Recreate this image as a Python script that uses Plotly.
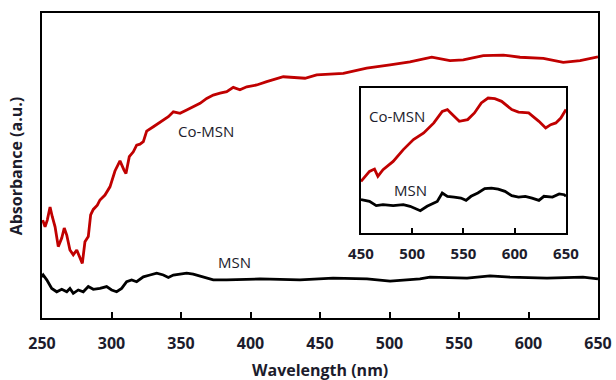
import plotly.graph_objects as go

# ---- main panel data ----
co_wl = [250.5, 252.2, 253.8, 255.8, 257.4, 259.4, 261.7, 264.2, 266.0, 267.8,
         270.1, 272.5, 275.0, 277.3, 279.0, 280.9, 283.3, 285.0, 286.9, 289.8,
         291.7, 295.3, 298.9, 302.5, 306.1, 309.0, 310.4, 312.8, 315.7, 318.1,
         320.5, 322.9, 325.3, 330.1, 333.7, 337.3, 340.9, 344.5, 349.3, 354.1,
         358.8, 363.7, 368.5, 373.2, 378.1, 382.9, 387.6, 392.4, 397.3, 404.5,
         411.7, 423.6, 439.2, 447.6, 466.8, 483.6, 500.4, 514.7, 530.4, 543.5,
         553.1, 567.5, 581.9, 593.9, 610.7, 625.0, 637.1, 649.1, 650.0]
co_abs = [32.1, 29.9, 32.1, 36.4, 33.2, 29.9, 23.4, 26.2, 29.5, 27.2,
          22.3, 20.7, 22.3, 19.7, 17.9, 25.0, 26.7, 33.8, 35.6, 37.0,
          38.7, 40.3, 43.0, 48.2, 51.5, 48.5, 47.4, 52.9, 54.5, 56.7,
          57.0, 57.8, 61.3, 62.7, 63.8, 64.9, 66.0, 67.6, 67.1, 68.2,
          69.3, 70.4, 72.0, 73.1, 73.7, 74.2, 75.6, 74.8, 75.8, 76.4,
          77.5, 79.1, 78.6, 79.7, 80.2, 81.9, 83.0, 84.0, 85.5, 84.4,
          84.6, 86.0, 86.2, 85.5, 85.1, 83.8, 84.4, 85.5, 85.6]

msn_wl = [250.0, 250.9, 253.4, 257.0, 260.6, 264.2, 267.8, 270.1, 272.5, 276.1,
          279.7, 283.3, 286.9, 291.7, 296.5, 300.1, 303.7, 307.3, 310.9, 314.5,
          318.1, 322.9, 327.7, 332.5, 337.3, 340.9, 344.5, 349.3, 354.1, 358.8,
          363.7, 368.5, 373.2, 382.9, 392.4, 406.8, 435.6, 459.4, 483.8, 500.4,
          521.9, 529.1, 555.8, 572.3, 586.7, 613.3, 639.2, 650.0]
msn_abs = [13.4, 14.1, 12.5, 9.7, 8.6, 9.4, 8.6, 9.7, 8.1, 9.2,
           8.6, 10.3, 9.4, 9.7, 10.3, 9.2, 8.6, 9.7, 11.9, 12.5,
           11.9, 13.5, 14.1, 14.7, 14.1, 13.3, 14.1, 14.4, 14.7, 14.4,
           13.8, 13.0, 12.5, 12.5, 12.7, 12.8, 12.5, 13.1, 12.8, 12.1,
           12.8, 13.4, 13.1, 13.8, 13.4, 13.1, 13.4, 12.8]

# ---- inset data (450-650 nm) ----
ins_co_wl = [450.0, 458.3, 463.2, 466.5, 471.5, 481.4, 491.3, 501.2, 511.2, 521.1,
             529.3, 534.3, 537.6, 545.9, 554.1, 560.7, 567.4, 574.0, 580.6, 587.2,
             597.1, 603.7, 613.6, 623.6, 630.2, 635.1, 640.1, 645.0, 650.0]
ins_co_abs = [35.6, 42.5, 44.1, 39.1, 43.7, 49.4, 57.5, 64.4, 69.0, 75.9,
              83.9, 85.1, 82.8, 77.0, 78.2, 82.8, 89.7, 93.1, 92.6, 90.8,
              85.1, 83.4, 82.8, 77.0, 72.4, 74.7, 75.9, 79.3, 85.1]

ins_msn_wl = [450.0, 458.3, 464.9, 471.5, 481.4, 491.3, 497.9, 504.5, 507.9, 514.5,
              524.4, 529.3, 534.3, 540.9, 547.5, 552.5, 557.4, 564.0, 570.7, 577.3,
              583.9, 590.5, 597.1, 603.7, 610.3, 616.9, 623.6, 628.5, 636.8, 643.4,
              648.3, 650.0]
ins_msn_abs = [23.0, 21.8, 18.9, 19.5, 18.9, 19.5, 18.4, 16.1, 15.4, 18.4,
               21.8, 27.6, 25.3, 24.8, 24.1, 22.5, 25.3, 27.6, 30.6, 31.0,
               30.3, 28.7, 25.7, 24.8, 25.3, 24.1, 22.5, 25.3, 24.8, 26.9,
               26.4, 25.3]

main_ticks = [250, 300, 350, 400, 450, 500, 550, 600, 650]
inset_ticks = [450, 500, 550, 600, 650]

RED = "#C00000"
TXT = "#1c1c2c"
FONT = "Open Sans"
LW = 2.8

fig = go.Figure()
fig.add_trace(go.Scatter(x=co_wl, y=co_abs, mode="lines",
                         line=dict(color=RED, width=LW), xaxis="x", yaxis="y"))
fig.add_trace(go.Scatter(x=msn_wl, y=msn_abs, mode="lines",
                         line=dict(color="black", width=LW), xaxis="x", yaxis="y"))
fig.add_trace(go.Scatter(x=ins_co_wl, y=ins_co_abs, mode="lines",
                         line=dict(color=RED, width=LW), xaxis="x2", yaxis="y2"))
fig.add_trace(go.Scatter(x=ins_msn_wl, y=ins_msn_abs, mode="lines",
                         line=dict(color="black", width=LW), xaxis="x2", yaxis="y2"))

axis_common = dict(showgrid=False, zeroline=False, showline=True, linecolor="black",
                   linewidth=2, mirror=True, automargin=False)

fig.update_layout(
    width=616, height=380, autosize=False,
    margin=dict(l=42, r=18, t=13, b=62),
    paper_bgcolor="white", plot_bgcolor="white",
    showlegend=False,
    font=dict(family=FONT, color=TXT),
    xaxis=dict(**axis_common, range=[250, 650], tickvals=main_ticks,
               ticks="inside", ticklen=6, tickwidth=2, tickcolor="black",
               tickfont=dict(family=FONT, size=16, color=TXT, weight="bold"),
               ticklabelstandoff=10, domain=[0, 1], anchor="y"),
    yaxis=dict(**axis_common, range=[0, 100], showticklabels=False, ticks="",
               domain=[0, 1], anchor="x"),
    xaxis2=dict(**axis_common, range=[450, 650], tickvals=inset_ticks,
                ticks="inside", ticklen=5, tickwidth=2, tickcolor="black",
                tickfont=dict(family=FONT, size=15, color=TXT, weight="bold"),
                ticklabelstandoff=6,
                domain=[0.5737, 0.9424], anchor="y2"),
    yaxis2=dict(**axis_common, range=[0, 100], showticklabels=False, ticks="",
                domain=[0.2787, 0.7541], anchor="x2"),
)

annotations = [
    dict(text="Co-MSN", x=368, y=61.3, xref="x", yref="y", showarrow=False,
         font=dict(family=FONT, size=15, color=TXT)),
    dict(text="MSN", x=388.8, y=18.4, xref="x", yref="y", showarrow=False,
         font=dict(family=FONT, size=15, color=TXT)),
    dict(text="Co-MSN", x=485.1, y=80.9, xref="x2", yref="y2", showarrow=False,
         font=dict(family=FONT, size=15, color=TXT)),
    dict(text="MSN", x=498.8, y=29.9, xref="x2", yref="y2", showarrow=False,
         font=dict(family=FONT, size=15, color=TXT)),
    dict(text="Wavelength (nm)", x=0.5, y=-0.172, xref="paper", yref="paper",
         xanchor="center", yanchor="middle", showarrow=False,
         font=dict(family=FONT, size=16, color=TXT, weight="bold")),
    dict(text="Absorbance (a.u.)", x=-0.047, y=0.5, xref="paper", yref="paper",
         xanchor="center", yanchor="middle", textangle=-90, showarrow=False,
         font=dict(family=FONT, size=16, color=TXT, weight="bold")),
]
fig.update_layout(annotations=annotations)

fig.write_html(
    "out.html",
    config={"responsive": False, "displayModeBar": False},
    default_width="616px", default_height="380px",
    post_script=("document.documentElement.style.margin='0';"
                 "document.body.style.margin='0';"
                 "document.documentElement.style.overflow='hidden';"
                 "document.body.style.overflow='hidden';"),
)
